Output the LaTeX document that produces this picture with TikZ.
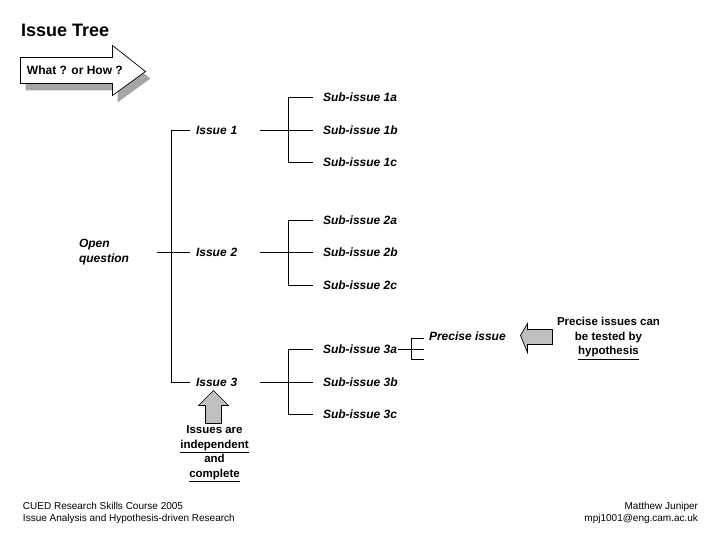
\documentclass[tikz,border=0pt]{standalone}
\usepackage{fontspec}
\setmainfont{Liberation Sans}
\usetikzlibrary{positioning}

\begin{document}
\begin{tikzpicture}[x=1pt, y=-1pt, line width=1pt,
		issue/.style={font=\bfseries\itshape\fontsize{12}{15}\selectfont, inner sep=0pt, anchor=west},
		mainissue/.style={issue, text width=57pt, align=left, inner xsep=6pt},
		note/.style={font=\bfseries\fontsize{11.5}{14.5}\selectfont, align=center, inner sep=0pt},
		foot/.style={font=\fontsize{10}{12}\selectfont, inner sep=0pt},
		tick/.style={shorten >=10pt},
		greyarrow/.style={draw=black, fill=black!25, line width=0.7pt}]
	\useasboundingbox (0,0) rectangle (720,540);
	\begin{scope}[shift={(0.5,0.5)}]

	% title and question arrow
	\node[font=\bfseries\fontsize{18}{20}\selectfont, inner sep=0pt, anchor=west] (title) at (20,30) {Issue Tree};
	\fill[black!35] (25,64) -- (117,64) -- (117,52) -- (150,78) -- (117,102) -- (117,90) -- (25,90) -- cycle;
	\draw[fill=white, line width=0.7pt] (20,57) -- (112,57) -- (112,45) -- (145,71) -- (112,95) -- (112,83) -- (20,83) -- cycle;
	\node[font=\bfseries\fontsize{12}{14}\selectfont, inner sep=0pt, anchor=west] (ask) at (26,70) {What ? or How ?};

	% tree
	\node[issue, text width=77pt, align=left] (open) at (78,252) {Open\\question};
	\node[mainissue] (i1) at (189,130) {Issue 1};
	\node[mainissue] (i2) at (189,252) {Issue 2};
	\node[mainissue] (i3) at (189,382) {Issue 3};
	\coordinate (t0) at (171,252);
	\draw (open) -- (i2);
	\draw (i1) -| (t0) |- (i3);

	\node[issue] (s1a) at (322,97) {Sub-issue 1a};
	\node[issue] (s1b) at (322,130) {Sub-issue 1b};
	\node[issue] (s1c) at (322,162) {Sub-issue 1c};
	\node[issue] (s2a) at (322,220) {Sub-issue 2a};
	\node[issue] (s2b) at (322,252) {Sub-issue 2b};
	\node[issue] (s2c) at (322,285) {Sub-issue 2c};
	\node[issue] (s3a) at (322,349) {Sub-issue 3a};
	\node[issue] (s3b) at (322,382) {Sub-issue 3b};
	\node[issue] (s3c) at (322,414) {Sub-issue 3c};

	\coordinate (j1) at (288,130);
	\coordinate (j2) at (288,252);
	\coordinate (j3) at (288,382);
	\draw (i1) -- (j1);
	\draw[tick] (j1) |- (s1a);
	\draw[tick] (j1) -- (s1b);
	\draw[tick] (j1) |- (s1c);
	\draw (i2) -- (j2);
	\draw[tick] (j2) |- (s2a);
	\draw[tick] (j2) -- (s2b);
	\draw[tick] (j2) |- (s2c);
	\draw (i3) -- (j3);
	\draw[tick] (j3) |- (s3a);
	\draw[tick] (j3) -- (s3b);
	\draw[tick] (j3) |- (s3c);

	% precise issue bracket
	\node[issue] (prec) at (428,336) {Precise issue};
	\coordinate (b3) at (411,349);
	\coordinate (bt) at (423,338);
	\coordinate (bm) at (423,349);
	\coordinate (bb) at (423,359);
	\draw (s3a) -- (b3);
	\draw (b3) |- (bt);
	\draw (b3) -- (bm);
	\draw (b3) |- (bb);

	% notes
	\node[note] (tested) at (608,338) {Precise issues can\\be tested by\\\underline{hypothesis}};
	\draw[greyarrow] (520,335) -- (527,323) -- (527,329) -- (552,329) -- (552,344) -- (527,344) -- (527,352) -- cycle;
	\node[note] (indep) at (214,453) {Issues are\\\underline{independent}\\and\\\underline{complete}};
	\draw[greyarrow] (213,390) -- (228,405) -- (221,405) -- (221,423) -- (205,423) -- (205,405) -- (198,405) -- cycle;

	% footer
	\node[foot, anchor=north west, align=left] (course) at (22,501) {CUED Research Skills Course 2005\\Issue Analysis and Hypothesis-driven Research};
	\node[foot, anchor=north east, align=right] (author) at (698,501) {Matthew Juniper\\mpj1001@eng.cam.ac.uk};
	\end{scope}
\end{tikzpicture}
\end{document}
